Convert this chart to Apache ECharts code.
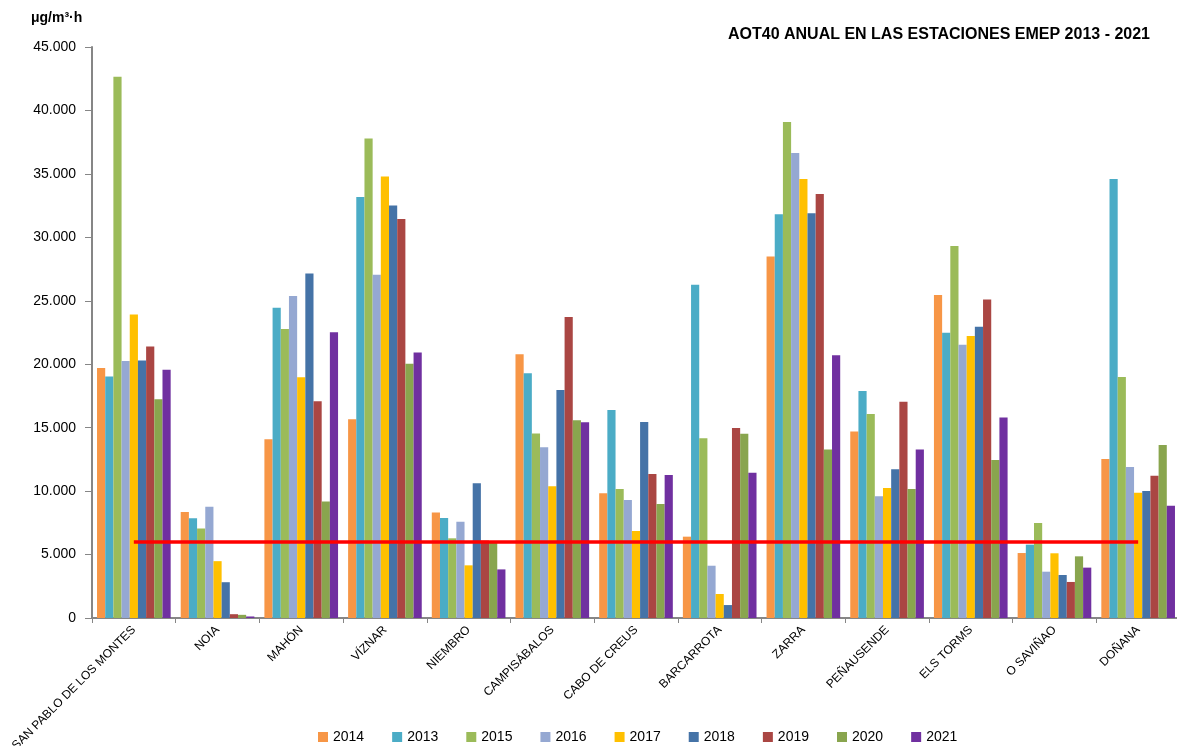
<!DOCTYPE html>
<html>
<head>
<meta charset="utf-8">
<script src="https://cdn.jsdelivr.net/npm/echarts@6/dist/echarts.min.js"></script>
<style>html,body{margin:0;padding:0;background:#fff}#c{width:1177px;height:746px}</style>
</head>
<body>
<div id="c"></div>
<script>
const stations = ['SAN PABLO DE LOS MONTES','NOIA','MAHÓN','VÍZNAR','NIEMBRO','CAMPISÁBALOS','CABO DE CREUS','BARCARROTA','ZARRA','PEÑAUSENDE','ELS TORMS','O SAVIÑAO','DOÑANA'];
const years = ['2014','2013','2015','2016','2017','2018','2019','2020','2021'];
const v2014 = [19700, 8350, 14090, 15670, 8310, 20780, 9830, 6410, 28490, 14690, 25450, 5120, 12530];
const v2013 = [19040, 7870, 24460, 33170, 7880, 19280, 16390, 26270, 31810, 17880, 22490, 5780, 34600];
const v2015 = [42650, 7060, 22780, 37780, 6280, 14550, 10170, 14160, 39090, 16070, 29320, 7490, 18990];
const v2016 = [20250, 8760, 25370, 27050, 7590, 13450, 9300, 4120, 36640, 9600, 21530, 3650, 11900];
const v2017 = [23920, 4480, 18970, 34800, 4150, 10380, 6860, 1890, 34590, 10240, 22220, 5100, 9880];
const v2018 = [20300, 2820, 27150, 32510, 10620, 17970, 15450, 1020, 31890, 11730, 22950, 3390, 10010];
const v2019 = [21400, 300, 17080, 31450, 6100, 23720, 11350, 14970, 33410, 17050, 25100, 2840, 11220];
const v2020 = [17240, 250, 9190, 20030, 5910, 15580, 8980, 14530, 13270, 10160, 12450, 4860, 13630];
const v2021 = [19560, 120, 22520, 20920, 3830, 15420, 11270, 11450, 20710, 13270, 15810, 3970, 8850];
const threshold = 6000;
const yTicks = {min: 0, max: 45000, interval: 5000};

const values = [v2014, v2013, v2015, v2016, v2017, v2018, v2019, v2020, v2021];
const colors = ['#F79646','#4BACC6','#9BBB59','#95A8D2','#FFC000','#4573A7','#AA4643','#89A54E','#7030A0'];
const FONT = 'Liberation Sans';

const series = years.map((y, i) => {
  const s = {
    name: y,
    type: 'bar',
    data: values[i],
    barGap: '0%',
    barCategoryGap: '12%',
    itemStyle: {color: colors[i]}
  };
  if (i === 4) {
    s.markLine = {
      silent: true,
      symbol: 'none',
      z: 10,
      label: {show: false},
      lineStyle: {color: '#FF0000', width: 3.5, type: 'solid'},
      data: [[{coord: [stations[0], threshold]}, {coord: [stations[stations.length - 1], threshold]}]]
    };
  }
  return s;
});

const chart = echarts.init(document.getElementById('c'));
chart.setOption({
  animation: false,
  color: colors,
  title: [
    {text: 'AOT40 ANUAL EN LAS ESTACIONES EMEP 2013 - 2021', right: 22, top: 22,
     textStyle: {fontFamily: FONT, fontSize: 16, fontWeight: 'bold', color: '#000'}},
    {text: 'μg/m³·h', left: 26, top: 6,
     textStyle: {fontFamily: FONT, fontSize: 14, fontWeight: 'bold', color: '#000'}}
  ],
  legend: {
    data: years,
    left: 313,
    top: 725,
    itemWidth: 10,
    itemHeight: 10,
    itemGap: 28,
    icon: 'rect',
    textStyle: {fontFamily: FONT, fontSize: 14, color: '#000'}
  },
  grid: {left: 92, top: 47, width: 1088, height: 571, containLabel: false, outerBoundsMode: 'none'},
  xAxis: {
    type: 'category',
    data: stations,
    axisLine: {lineStyle: {color: '#868686', width: 2}},
    axisTick: {show: true, length: 5, lineStyle: {color: '#868686', width: 1}},
    axisLabel: {rotate: 45, interval: 0, margin: 10, fontFamily: FONT, fontSize: 12, color: '#000'}
  },
  yAxis: {
    type: 'value',
    min: yTicks.min,
    max: yTicks.max,
    interval: yTicks.interval,
    splitLine: {show: false},
    axisLine: {show: true, lineStyle: {color: '#868686', width: 2}},
    axisTick: {show: true, length: 7, lineStyle: {color: '#868686', width: 1}},
    axisLabel: {
      margin: 16,
      fontFamily: FONT, fontSize: 14, color: '#000',
      formatter: v => v === 0 ? '0' : (v / 1000).toFixed(3)
    }
  },
  series: series
});
</script>
</body>
</html>
